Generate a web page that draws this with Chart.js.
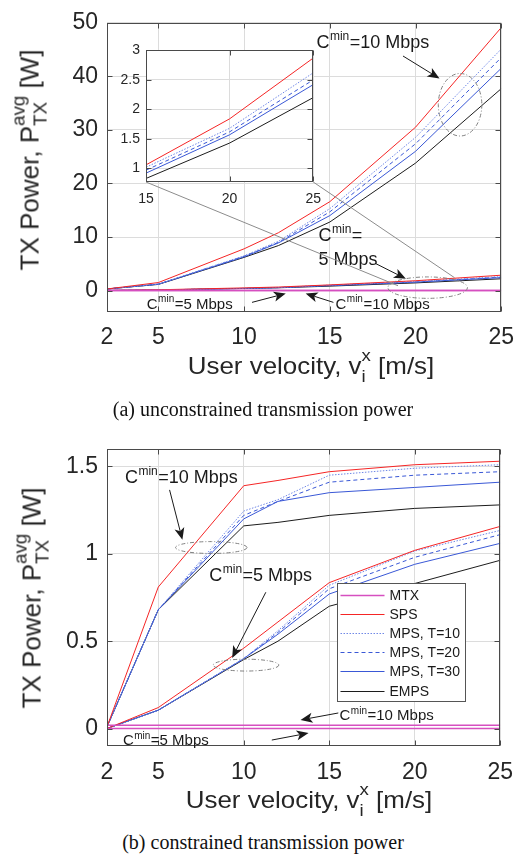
<!DOCTYPE html>
<html>
<head>
<meta charset="utf-8">
<script src="https://cdn.jsdelivr.net/npm/chart.js@4.4.0/dist/chart.umd.min.js"></script>
<style>
  html, body { margin: 0; padding: 0; background: #fff; }
  #page { position: relative; width: 526px; height: 854px; overflow: hidden;
          font-family: 'Liberation Sans', Arial, sans-serif; color: #262626; background: #fff; }
  canvas { position: absolute; }
  .xtitle, .ytitle { position: absolute; white-space: nowrap; line-height: 1; }
  .xtitle { font-size: 24px; transform: translate(-50%, -50%) scaleX(1.08); }
  .ytitle { font-size: 26px; transform: translate(-50%, -50%) rotate(-90deg); }
  .ss { display: inline-block; vertical-align: -0.45em; font-size: 0.72em; line-height: 1.2; }
  .ss span { display: block; }
  .caption { position: absolute; left: 0; width: 526px; text-align: center; line-height: 1;
             font-family: 'Liberation Serif', 'Times New Roman', serif; font-size: 20px; color: #111;
             transform: translateY(-50%); }
</style>
</head>
<body>
<div id="page">
  <canvas id="chartA" width="526" height="350" style="left:0;top:0"></canvas>
  <canvas id="inset" width="220" height="174" style="left:110px;top:36px"></canvas>
  <canvas id="chartB" width="526" height="370" style="left:0;top:420px"></canvas>

  <div class="ytitle" style="left:30px;top:160px">TX Power, P<span class="ss"><span>avg</span><span>TX</span></span> [W]</div>
  <div class="xtitle" style="left:311px;top:366px">User velocity, v<span class="ss"><span>x</span><span>i</span></span> [m/s]</div>
  <div class="caption" style="top:409px">(a) unconstrained transmission power</div>

  <div class="ytitle" style="left:32px;top:598px">TX Power, P<span class="ss"><span>avg</span><span>TX</span></span> [W]</div>
  <div class="xtitle" style="left:309px;top:800px">User velocity, v<span class="ss"><span>x</span><span>i</span></span> [m/s]</div>
  <div class="caption" style="top:842px">(b) constrained transmission power</div>
</div>

<script>
// velocities on the x axis [m/s]
const velocity = [2, 5, 10, 12, 15, 20, 25];
const methods = ['MTX', 'SPS', 'MPS, T=10', 'MPS, T=20', 'MPS, T=30', 'EMPS'];

// (a) unconstrained, Cmin = 10 Mbps
const unc10MTX   = [0.02, 0.02, 0.02, 0.02, 0.02, 0.02, 0.02];
const unc10SPS   = [0.3, 1.5, 7.8, 10.8, 16.6, 30.5, 49.1];
const unc10MPS10 = [0.3, 1.2, 6.5, 9.2, 15.3, 28.6, 45.1];
const unc10MPS20 = [0.3, 1.2, 6.4, 9.0, 14.7, 27.4, 43.5];
const unc10MPS30 = [0.3, 1.2, 6.3, 8.9, 14.0, 26.0, 41.5];
const unc10EMPS  = [0.3, 1.15, 6.2, 8.4, 12.8, 23.8, 37.7];

// (a) unconstrained, Cmin = 5 Mbps
const unc5MTX   = [0, 0, 0, 0, 0, 0, 0];
const unc5SPS   = [0.02, 0.15, 0.5, 0.66, 1.06, 1.84, 2.87];
const unc5MPS10 = [0.02, 0.12, 0.42, 0.57, 1.02, 1.68, 2.62];
const unc5MPS20 = [0.02, 0.12, 0.41, 0.56, 0.97, 1.62, 2.5];
const unc5MPS30 = [0.02, 0.12, 0.4, 0.55, 0.92, 1.57, 2.42];
const unc5EMPS  = [0.02, 0.11, 0.39, 0.52, 0.83, 1.43, 2.2];

// (b) constrained, Cmin = 10 Mbps
const con10MTX   = [0.019, 0.019, 0.019, 0.019, 0.019, 0.019, 0.019];
const con10SPS   = [0.01, 0.81, 1.39, 1.42, 1.47, 1.51, 1.53];
const con10MPS10 = [0.01, 0.68, 1.245, 1.31, 1.45, 1.49, 1.51];
const con10MPS20 = [0.01, 0.68, 1.22, 1.30, 1.41, 1.45, 1.47];
const con10MPS30 = [0.01, 0.68, 1.2, 1.30, 1.35, 1.38, 1.41];
const con10EMPS  = [0.01, 0.68, 1.16, 1.18, 1.22, 1.26, 1.28];

// (b) constrained, Cmin = 5 Mbps
const con5MTX   = [0, 0, 0, 0, 0, 0, 0];
const con5SPS   = [0, 0.12, 0.46, 0.61, 0.835, 1.02, 1.157];
const con5MPS10 = [0, 0.105, 0.4, 0.56, 0.82, 1.016, 1.134];
const con5MPS20 = [0, 0.105, 0.4, 0.55, 0.8, 0.98, 1.11];
const con5MPS30 = [0, 0.105, 0.4, 0.54, 0.77, 0.94, 1.06];
const con5EMPS  = [0, 0.105, 0.395, 0.5, 0.7, 0.83, 0.963];

// tick labels
const xTicks = [2, 5, 10, 15, 20, 25];
const yTicksA = [0, 10, 20, 30, 40, 50];
const yTicksB = [0, 0.5, 1, 1.5];
const xTicksInset = [15, 20, 25];
const yTicksInset = [1, 1.5, 2, 2.5, 3];

const FONT = "'Liberation Sans', Arial, Helvetica, sans-serif";
const lineStyles = [
    { color: '#d64fc0', dash: [], width: 1.5 },
    { color: '#f52525', dash: [], width: 1 },
    { color: '#7088e6', dash: [1.5, 1.5], width: 1 },
    { color: '#3a58d6', dash: [4, 3], width: 1 },
    { color: '#3a58d6', dash: [], width: 1 },
    { color: '#1c1c1c', dash: [], width: 1 }
];

function makeDatasets(groups) {
    const out = [];
    groups.forEach(group => {
        group.forEach((vals, m) => {
            const st = lineStyles[m];
            out.push({
                label: methods[m],
                data: vals.map((v, i) => ({ x: velocity[i], y: v })),
                borderColor: st.color,
                borderDash: st.dash,
                borderWidth: st.width,
                pointRadius: 0,
                fill: false,
                tension: 0
            });
        });
    });
    return out;
}

function fixTicks(list) {
    return scale => { scale.ticks = list.map(v => ({ value: v })); };
}

function drawArrow(ctx, x1, y1, x2, y2) {
    const ang = Math.atan2(y2 - y1, x2 - x1);
    const len = 12, half = 5, back = 3;
    ctx.beginPath();
    ctx.moveTo(x1, y1);
    ctx.lineTo(x2 - Math.cos(ang) * (len - back), y2 - Math.sin(ang) * (len - back));
    ctx.stroke();
    ctx.save();
    ctx.translate(x2, y2);
    ctx.rotate(ang);
    ctx.beginPath();
    ctx.moveTo(0, 0);
    ctx.lineTo(-len, -half);
    ctx.lineTo(-len + back, 0);
    ctx.lineTo(-len, half);
    ctx.closePath();
    ctx.fill();
    ctx.restore();
}

function drawCmin(ctx, x, y, rest, size) {
    const base = y + size * 0.36;
    ctx.textBaseline = 'alphabetic';
    ctx.textAlign = 'left';
    ctx.font = size + 'px ' + FONT;
    ctx.fillText('C', x, base);
    let w = ctx.measureText('C').width + 0.5;
    ctx.font = Math.round(size * 0.68) + 'px ' + FONT;
    ctx.fillText('min', x + w, base - size * 0.45);
    w += ctx.measureText('min').width + 0.5;
    ctx.font = size + 'px ' + FONT;
    ctx.fillText(rest, x + w, base);
}

// box with inner tick marks (Matlab style)
const framePlugin = {
    id: 'frame',
    beforeDraw(chart, args, opts) {
        if (!opts.fill) return;
        const a = chart.chartArea;
        chart.ctx.save();
        chart.ctx.fillStyle = '#fff';
        chart.ctx.fillRect(a.left, a.top, a.right - a.left, a.bottom - a.top);
        chart.ctx.restore();
    },
    afterDatasetsDraw(chart) {
        const ctx = chart.ctx;
        const l = Math.round(chart.chartArea.left) + 0.5;
        const r = Math.round(chart.chartArea.right) - 0.5;
        const t = Math.round(chart.chartArea.top) + 0.5;
        const b = Math.round(chart.chartArea.bottom) - 0.5;
        ctx.save();
        ctx.strokeStyle = '#4a4a4a';
        ctx.lineWidth = 1;
        ctx.setLineDash([]);
        ctx.strokeRect(l, t, r - l, b - t);
        ctx.beginPath();
        chart.scales.y.ticks.forEach(tk => {
            const y = Math.round(chart.scales.y.getPixelForValue(tk.value)) + 0.5;
            ctx.moveTo(l, y); ctx.lineTo(l + 5, y);
            ctx.moveTo(r, y); ctx.lineTo(r - 5, y);
        });
        chart.scales.x.ticks.forEach(tk => {
            const x = Math.round(chart.scales.x.getPixelForValue(tk.value)) + 0.5;
            ctx.moveTo(x, b); ctx.lineTo(x, b - 5);
            ctx.moveTo(x, t); ctx.lineTo(x, t + 5);
        });
        ctx.stroke();
        ctx.restore();
    }
};

// annotations: texts, arrows, ellipses, zoom lines, legend
const notesPlugin = {
    id: 'notes',
    afterDatasetsDraw(chart, args, opts) {
        const ctx = chart.ctx;
        const xs = chart.scales.x, ys = chart.scales.y;
        const P = (x, y) => [xs.getPixelForValue(x), ys.getPixelForValue(y)];
        ctx.save();
        (opts.items || []).forEach(it => {
            ctx.fillStyle = '#1a1a1a';
            ctx.strokeStyle = '#1a1a1a';
            ctx.lineWidth = 1;
            ctx.setLineDash([]);
            if (it.type === 'cmin') {
                const [x, y] = P(it.x, it.y);
                drawCmin(ctx, x, y, it.rest, it.size);
            } else if (it.type === 'text') {
                const [x, y] = P(it.x, it.y);
                ctx.font = it.size + 'px ' + FONT;
                ctx.textAlign = 'left';
                ctx.textBaseline = 'alphabetic';
                ctx.fillText(it.text, x, y + it.size * 0.36);
            } else if (it.type === 'arrow') {
                const [x1, y1] = P(it.from[0], it.from[1]);
                const [x2, y2] = P(it.to[0], it.to[1]);
                drawArrow(ctx, x1, y1, x2, y2);
            } else if (it.type === 'ellipse') {
                const [cx, cy] = P(it.x, it.y);
                const rx = Math.abs(xs.getPixelForValue(it.x + it.rx) - cx);
                const ry = Math.abs(ys.getPixelForValue(it.y + it.ry) - cy);
                ctx.strokeStyle = '#808080';
                ctx.setLineDash([4, 2, 1, 2]);
                ctx.beginPath();
                ctx.ellipse(cx, cy, rx, ry, (it.rot || 0) * Math.PI / 180, 0, Math.PI * 2);
                ctx.stroke();
            } else if (it.type === 'zoomline' && insetChart) {
                const a = insetChart.chartArea;
                const cx = insetLeft + (it.corner === 'left' ? a.left : a.right);
                const cy = insetTop + a.bottom;
                const [x2, y2] = P(it.to[0], it.to[1]);
                ctx.strokeStyle = '#8c8c8c';
                ctx.beginPath();
                ctx.moveTo(cx, cy);
                ctx.lineTo(x2, y2);
                ctx.stroke();
            }
        });
        if (opts.legend) {
            const L = opts.legend;
            const a = chart.chartArea;
            const bx = Math.round(a.right - L.right - L.width) + 0.5;
            const by = Math.round(a.top + L.top) + 0.5;
            ctx.setLineDash([]);
            ctx.fillStyle = '#fff';
            ctx.fillRect(bx, by, L.width, L.height);
            ctx.strokeStyle = '#555';
            ctx.lineWidth = 1;
            ctx.strokeRect(bx, by, L.width, L.height);
            ctx.font = '14px ' + FONT;
            ctx.textBaseline = 'middle';
            ctx.textAlign = 'left';
            methods.forEach((name, m) => {
                const st = lineStyles[m];
                const y = Math.round(by + 11 + m * 19.2) + 0.5;
                ctx.strokeStyle = st.color;
                ctx.lineWidth = st.width;
                ctx.setLineDash(st.dash);
                ctx.beginPath();
                ctx.moveTo(bx + 3, y);
                ctx.lineTo(bx + 47, y);
                ctx.stroke();
                ctx.fillStyle = '#1a1a1a';
                ctx.fillText(name, bx + 52, y + 1);
            });
        }
        ctx.restore();
    }
};

function axisOptions(min, max, ticks, fontSize, pad, fitSize, isX) {
    return {
        type: 'linear',
        min: min,
        max: max,
        afterBuildTicks: fixTicks(ticks),
        afterFit: scale => { if (isX) scale.height = fitSize; else scale.width = fitSize; },
        grid: { color: '#dcdcdc', lineWidth: 1, drawTicks: false },
        border: { display: false },
        ticks: {
            font: { family: FONT, size: fontSize },
            color: '#262626',
            padding: pad,
            autoSkip: false,
            maxRotation: 0,
            callback: v => String(v)
        }
    };
}

Chart.defaults.animation = false;
Chart.defaults.devicePixelRatio = 1;

const insetLeft = 110, insetTop = 36;
let insetChart = null;

// zoomed inset, 15..25 m/s, Cmin = 5 Mbps
insetChart = new Chart(document.getElementById('inset'), {
    type: 'line',
    data: { datasets: makeDatasets([[unc5MTX, unc5SPS, unc5MPS10, unc5MPS20, unc5MPS30, unc5EMPS]]) },
    options: {
        responsive: false,
        layout: { padding: { top: 13, right: 15, left: 0, bottom: 0 } },
        plugins: { legend: { display: false }, tooltip: { enabled: false }, frame: { fill: true } },
        scales: {
            x: axisOptions(15, 25, xTicksInset, 14, 9, 28, true),
            y: axisOptions(0.77, 3, yTicksInset, 14, 6, 36, false)
        }
    },
    plugins: [framePlugin]
});

new Chart(document.getElementById('chartA'), {
    type: 'line',
    data: {
        datasets: makeDatasets([
            [unc10MTX, unc10SPS, unc10MPS10, unc10MPS20, unc10MPS30, unc10EMPS],
            [unc5MTX, unc5SPS, unc5MPS10, unc5MPS20, unc5MPS30, unc5EMPS]
        ])
    },
    options: {
        responsive: false,
        layout: { padding: { top: 16, right: 22, left: 0, bottom: 0 } },
        plugins: {
            legend: { display: false },
            tooltip: { enabled: false },
            notes: {
                items: [
                    { type: 'cmin', x: 14.22, y: 46.5, rest: '=10 Mbps', size: 18 },
                    { type: 'arrow', from: [19.27, 43.8], to: [21.4, 39.6] },
                    { type: 'ellipse', x: 22.6, y: 34.7, rx: 1.27, ry: 5.84 },
                    { type: 'cmin', x: 14.34, y: 10.4, rest: '=', size: 18 },
                    { type: 'text', x: 14.34, y: 6.0, text: '5 Mbps', size: 18 },
                    { type: 'arrow', from: [17.64, 5.1], to: [19.44, 2.2] },
                    { type: 'ellipse', x: 20.71, y: 0.55, rx: 2.32, ry: 2.0 },
                    { type: 'zoomline', corner: 'left', to: [18.98, 0.9] },
                    { type: 'zoomline', corner: 'right', to: [22.28, 2.4] },
                    { type: 'cmin', x: 4.32, y: -2.4, rest: '=5 Mbps', size: 15 },
                    { type: 'arrow', from: [10.46, -2.2], to: [12.43, -0.55] },
                    { type: 'cmin', x: 15.33, y: -2.4, rest: '=10 Mbps', size: 15 },
                    { type: 'arrow', from: [15.21, -2.2], to: [13.59, -0.55] }
                ]
            }
        },
        scales: {
            x: axisOptions(2, 25, xTicks, 23, 12, 38, true),
            y: axisOptions(-4, 50, yTicksA, 23, 9, 107, false)
        }
    },
    plugins: [framePlugin, notesPlugin]
});

new Chart(document.getElementById('chartB'), {
    type: 'line',
    data: {
        datasets: makeDatasets([
            [con10MTX, con10SPS, con10MPS10, con10MPS20, con10MPS30, con10EMPS],
            [con5MTX, con5SPS, con5MPS10, con5MPS20, con5MPS30, con5EMPS]
        ])
    },
    options: {
        responsive: false,
        layout: { padding: { top: 29, right: 23, left: 0, bottom: 0 } },
        plugins: {
            legend: { display: false },
            tooltip: { enabled: false },
            notes: {
                items: [
                    { type: 'cmin', x: 3.05, y: 1.44, rest: '=10 Mbps', size: 18 },
                    { type: 'arrow', from: [5.66, 1.366], to: [6.41, 1.08] },
                    { type: 'ellipse', x: 8.1, y: 1.036, rx: 2.09, ry: 0.034 },
                    { type: 'cmin', x: 7.98, y: 0.879, rest: '=5 Mbps', size: 18 },
                    { type: 'arrow', from: [11.29, 0.78], to: [9.32, 0.404] },
                    { type: 'ellipse', x: 10.13, y: 0.363, rx: 1.92, ry: 0.034 },
                    { type: 'cmin', x: 15.6, y: 0.077, rest: '=10 Mbps', size: 15 },
                    { type: 'arrow', from: [15.53, 0.089], to: [13.32, 0.049] },
                    { type: 'cmin', x: 2.93, y: -0.066, rest: '=5 Mbps', size: 15 },
                    { type: 'arrow', from: [11.64, -0.066], to: [13.79, -0.026] }
                ],
                legend: { right: 35, top: 134, width: 128, height: 118 }
            }
        },
        scales: {
            x: axisOptions(2, 25, xTicks, 23, 13, 44, true),
            y: axisOptions(-0.1, 1.6, yTicksB, 23, 9, 107, false)
        }
    },
    plugins: [framePlugin, notesPlugin]
});
</script>
</body>
</html>
